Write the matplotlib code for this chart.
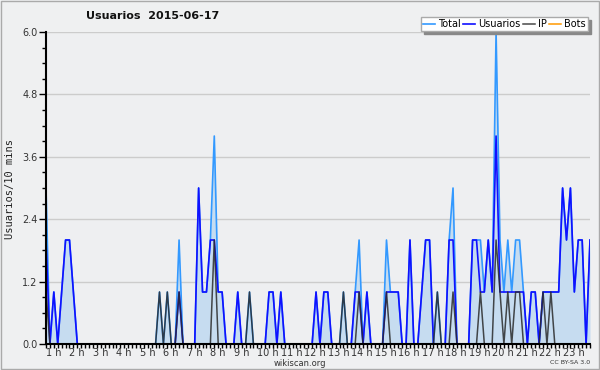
import matplotlib.pyplot as plt
from matplotlib.patches import Rectangle

# one value every 10 minutes, starting at 1 h
hour_labels = ["%d h" % h for h in range(1, 24)]

usuarios = [2, 0, 1, 0, 1, 2,  2, 1, 0, 0, 0, 0,  0, 0, 0, 0, 0, 0,
            0, 0, 0, 0, 0, 0,  0, 0, 0, 0, 0, 0,  0, 0, 0, 0, 1, 0,
            0, 0, 0, 3, 1, 1,  2, 2, 1, 1, 0, 0,  0, 1, 0, 0, 0, 0,
            0, 0, 0, 1, 1, 0,  1, 0, 0, 0, 0, 0,  0, 0, 0, 1, 0, 1,
            1, 0, 0, 0, 0, 0,  0, 1, 1, 0, 1, 0,  0, 0, 0, 1, 1, 1,
            1, 0, 0, 2, 0, 0,  1, 2, 2, 0, 0, 0,  0, 2, 2, 0, 0, 0,
            0, 2, 2, 1, 1, 2,  1, 4, 1, 1, 1, 1,  1, 1, 1, 0, 1, 1,
            0, 1, 1, 1, 1, 1,  3, 2, 3, 1, 2, 2,  0, 2]

ip = [1, 0, 0, 0, 0, 0,  0, 0, 0, 0, 0, 0,  0, 0, 0, 0, 0, 0,
      0, 0, 0, 0, 0, 0,  0, 0, 0, 0, 0, 1,  0, 1, 0, 0, 1, 0,
      0, 0, 0, 0, 0, 0,  0, 2, 0, 0, 0, 0,  0, 0, 0, 0, 1, 0,
      0, 0, 0, 0, 0, 0,  0, 0, 0, 0, 0, 0,  0, 0, 0, 0, 0, 0,
      0, 0, 0, 0, 1, 0,  0, 0, 1, 0, 0, 0,  0, 0, 0, 1, 0, 0,
      0, 0, 0, 0, 0, 0,  0, 0, 0, 0, 1, 0,  0, 0, 1, 0, 0, 0,
      0, 0, 0, 1, 0, 0,  0, 2, 1, 0, 1, 0,  1, 1, 0, 0, 0, 0,
      0, 1, 0, 1, 0, 0,  0, 0, 0, 0, 0, 0,  0, 0]

total = [3, 0, 1, 0, 1, 2,  2, 1, 0, 0, 0, 0,  0, 0, 0, 0, 0, 0,
         0, 0, 0, 0, 0, 0,  0, 0, 0, 0, 0, 1,  0, 1, 0, 0, 2, 0,
         0, 0, 0, 3, 1, 1,  2, 4, 1, 1, 0, 0,  0, 1, 0, 0, 1, 0,
         0, 0, 0, 1, 1, 0,  1, 0, 0, 0, 0, 0,  0, 0, 0, 1, 0, 1,
         1, 0, 0, 0, 1, 0,  0, 1, 2, 0, 1, 0,  0, 0, 0, 2, 1, 1,
         1, 0, 0, 2, 0, 0,  1, 2, 2, 0, 1, 0,  0, 2, 3, 0, 0, 0,
         0, 2, 2, 2, 1, 2,  1, 6, 2, 1, 2, 1,  2, 2, 1, 0, 1, 1,
         0, 1, 1, 1, 1, 1,  3, 2, 3, 1, 2, 2,  0, 2]

bots = [0] * len(total)

x = list(range(len(total)))

fig = plt.figure(figsize=(6, 3.7), dpi=100, facecolor="#eff0f1")
ax = fig.add_axes([46 / 600, 26 / 370, 544 / 600, 312 / 370])
ax.set_facecolor("#eeeff1")

ax.fill_between(x, total, color="#c6dcf0", lw=0)
l_total, = ax.plot(x, total, color="#3399ff", lw=1.2, label="Total")
l_users, = ax.plot(x, usuarios, color="#1010ff", lw=1.2, label="Usuarios")
l_ip, = ax.plot(x, ip, color="#2a2a2a", lw=1.1, alpha=0.85, label="IP")
l_bots, = ax.plot(x, bots, color="#ff9900", lw=1.1, label="Bots", zorder=1)

ax.set_xlim(0, len(total) - 1)
ax.set_ylim(0, 6.0)

yt = [0.0, 1.2, 2.4, 3.6, 4.8, 6.0]
ax.set_yticks(yt, ["%.1f" % v for v in yt])
ax.set_yticks([i * 0.3 for i in range(21)], minor=True)
ax.yaxis.grid(True, color="#cccccc", lw=1)
ax.set_axisbelow(True)

ax.set_xticks(range(0, 133, 6), hour_labels)
ax.set_xticks(x, minor=True)
for lab in ax.get_xticklabels():
    lab.set_horizontalalignment("left")

ax.tick_params(axis="both", which="both", direction="out", color="black",
               labelcolor="#333333", labelsize=7)
ax.tick_params(axis="x", which="both", length=3, width=1, pad=0)
ax.tick_params(axis="y", which="major", length=5, width=1, pad=1)
ax.tick_params(axis="y", which="minor", length=3, width=1)

for s in ["top", "right"]:
    ax.spines[s].set_visible(False)
for s in ["left", "bottom"]:
    ax.spines[s].set_linewidth(1.5)
    ax.spines[s].set_zorder(5)

fig.text(10 / 600, 1 - 189 / 370, "Usuarios/10 mins", family="DejaVu Sans Mono",
         fontsize=7.5, color="#222222", rotation=90, ha="center", va="center")

fig.text(86 / 600, 1 - 16 / 370, "Usuarios  2015-06-17", fontsize=8,
         fontweight="bold", va="center", ha="left", color="#111111")

leg = fig.legend(handles=[l_total, l_users, l_ip, l_bots], ncol=4,
                 loc="upper right", bbox_to_anchor=(588 / 600, 1 - 17 / 370),
                 fontsize=7, handlelength=1.2, handletextpad=0.35,
                 columnspacing=0.25, borderpad=0.2, fancybox=False,
                 shadow={"color": "#888888", "alpha": 1}, framealpha=1,
                 edgecolor="#aaaaaa", borderaxespad=0)
leg.get_frame().set_linewidth(1)

fig.text(300 / 600, 1 - 363 / 370, "wikiscan.org", fontsize=6,
         color="#333333", ha="center", va="center")
fig.text(590 / 600, 1 - 363 / 370, "CC BY-SA 3.0", fontsize=4.5,
         color="#333333", ha="right", va="center")

fig.patches.append(Rectangle((0.001, 0.002), 0.997, 0.995, transform=fig.transFigure,
                             fill=False, edgecolor="#aaaaaa", lw=1))

fig.savefig("out.png", dpi=100, facecolor=fig.get_facecolor())
